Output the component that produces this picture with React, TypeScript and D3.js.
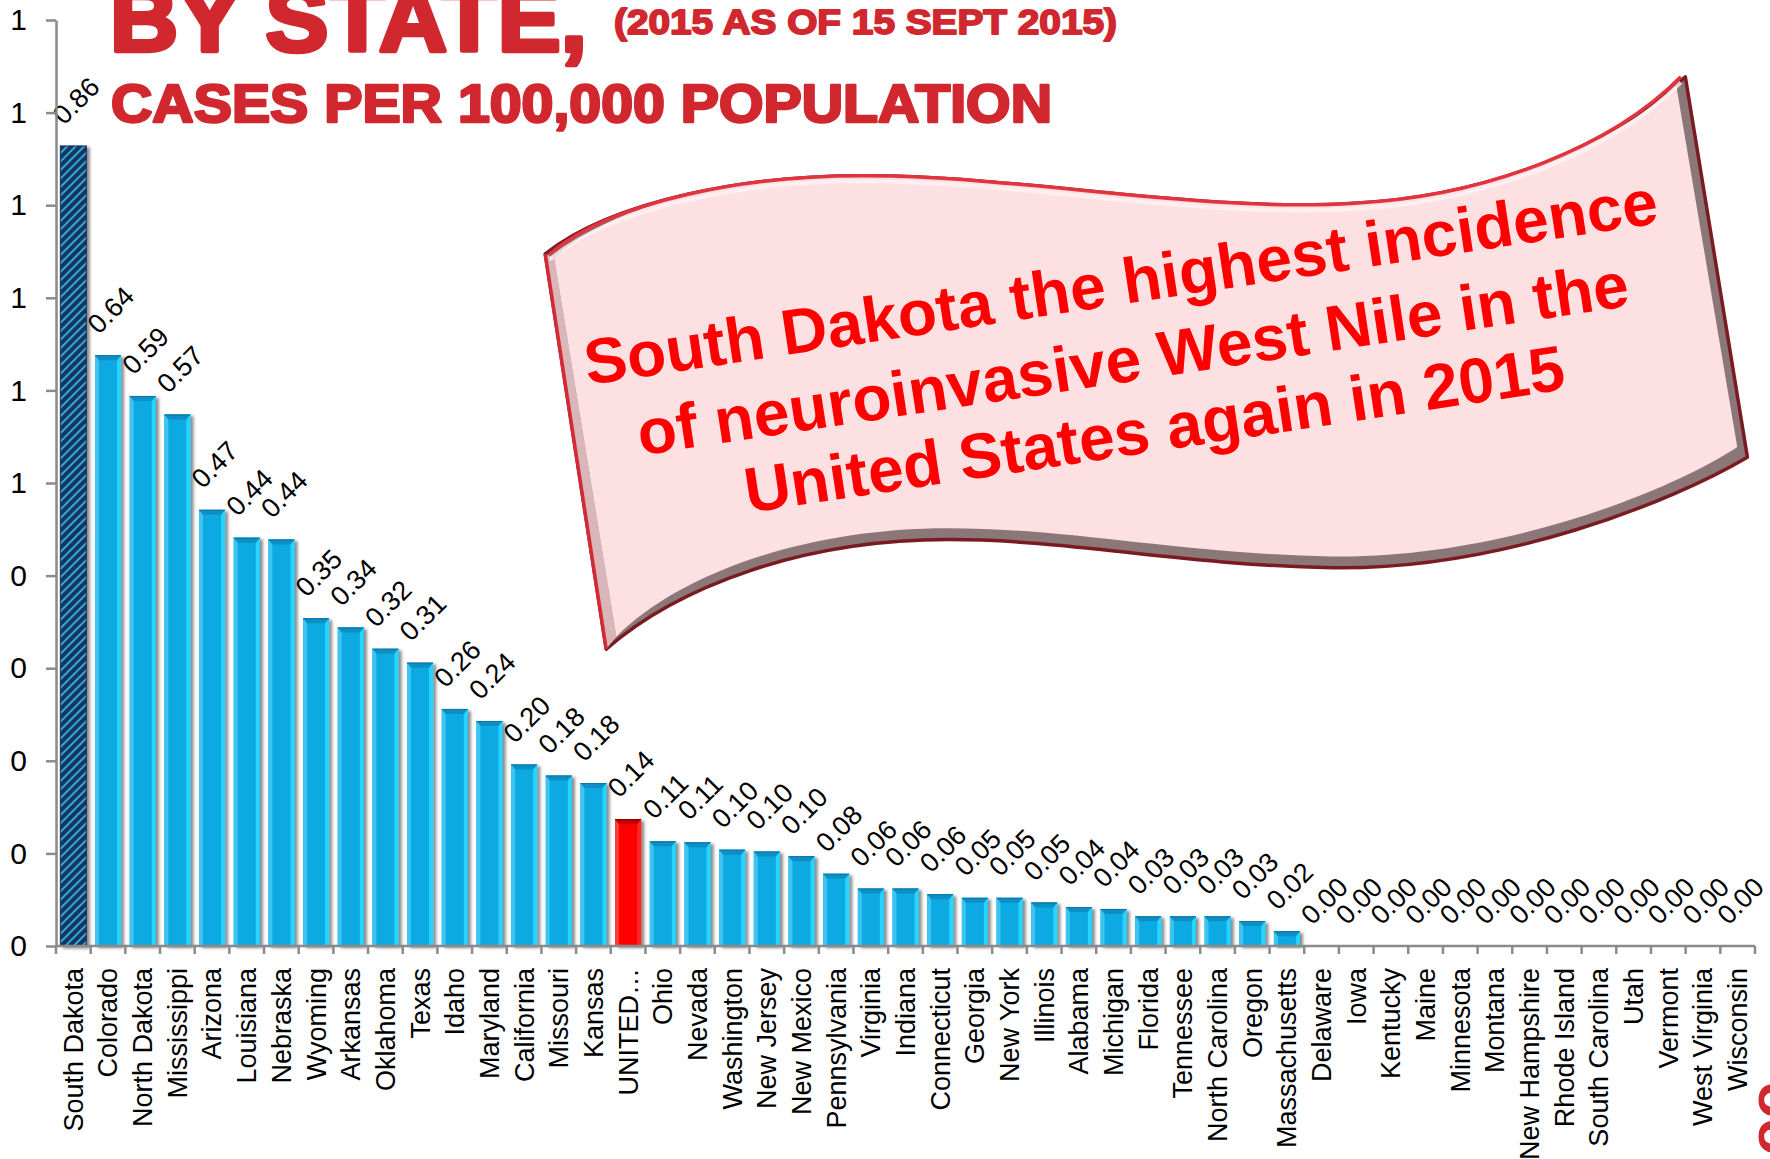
import React, { useEffect, useRef } from 'react'
import * as d3 from 'd3'

// categories, left to right as in the chart
const states = [
  'South Dakota', 'Colorado', 'North Dakota', 'Mississippi', 'Arizona', 'Louisiana', 'Nebraska',
  'Wyoming', 'Arkansas', 'Oklahoma', 'Texas', 'Idaho', 'Maryland', 'California', 'Missouri',
  'Kansas', 'UNITED…', 'Ohio', 'Nevada', 'Washington', 'New Jersey', 'New Mexico', 'Pennsylvania',
  'Virginia', 'Indiana', 'Connecticut', 'Georgia', 'New York', 'Illinois', 'Alabama', 'Michigan',
  'Florida', 'Tennessee', 'North Carolina', 'Oregon', 'Massachusetts', 'Delaware', 'Iowa',
  'Kentucky', 'Maine', 'Minnesota', 'Montana', 'New Hampshire', 'Rhode Island', 'South Carolina',
  'Utah', 'Vermont', 'West Virginia', 'Wisconsin'
]

// cases per 100,000 (labels show 2 decimals)
const rates = [
  0.864, 0.638, 0.594, 0.574, 0.471, 0.441, 0.439,
  0.354, 0.344, 0.321, 0.306, 0.256, 0.243, 0.196, 0.184,
  0.176, 0.137, 0.113, 0.112, 0.104, 0.102, 0.097, 0.078,
  0.062, 0.062, 0.056, 0.052, 0.052, 0.047, 0.042, 0.040,
  0.032, 0.032, 0.032, 0.027, 0.016, 0, 0,
  0, 0, 0, 0, 0, 0, 0,
  0, 0, 0, 0
]

const yTicks = [0, 0.1, 0.2, 0.3, 0.4, 0.5, 0.6, 0.7, 0.8, 0.9, 1.0]
const yTickLabels = ['0', '0', '0', '0', '0', '1', '1', '1', '1', '1', '1']

const highlightState = 'South Dakota'
const nationalRow = 'UNITED…'

const titleMain = 'BY STATE,'
const titleDate = '(2015 AS OF 15 SEPT 2015)'
const titleSub = 'CASES PER 100,000 POPULATION'

const calloutLines = [
  'South Dakota the highest incidence',
  'of neuroinvasive West Nile in the',
  'United States again in 2015'
]

const W = 1770
const H = 1159
const plotLeft = 56
const plotRight = 1755
const plotTop = 20
const plotBottom = 946
const FONT = "'Liberation Sans', Arial, sans-serif"
const TITLE_RED = '#d0282e'

export default function App() {
  const ref = useRef<SVGSVGElement>(null)

  useEffect(() => {
    document.body.style.margin = '0'
    const svg = d3.select(ref.current)
    svg.selectAll('*').remove()

    const defs = svg.append('defs')
    const hatch = defs.append('pattern')
      .attr('id', 'hatch')
      .attr('patternUnits', 'userSpaceOnUse')
      .attr('width', 6).attr('height', 6)
      .attr('patternTransform', 'rotate(45)')
    hatch.append('rect').attr('width', 6).attr('height', 6).attr('fill', '#16345f')
    hatch.append('line').attr('x1', 1).attr('y1', 0).attr('x2', 1).attr('y2', 6)
      .attr('stroke', '#36b4e6').attr('stroke-width', 1.8)

    const sh = defs.append('filter').attr('id', 'sh')
      .attr('x', '-30%').attr('y', '-10%').attr('width', '170%').attr('height', '130%')
    sh.append('feDropShadow').attr('dx', 3).attr('dy', 2).attr('stdDeviation', 1.6)
      .attr('flood-color', '#000').attr('flood-opacity', 0.45)

    const x = d3.scaleBand<string>().domain(states).range([plotLeft, plotRight])
      .paddingInner(0.25).paddingOuter(0.125)
    const y = d3.scaleLinear().domain([0, 1]).range([plotBottom, plotTop])
    const step = x.step()

    // bars
    const data = states.map((s, i) => ({ s, v: rates[i] }))
    const bars = svg.append('g').selectAll('g.bar').data(data).enter()
      .append('g').attr('class', 'bar').attr('filter', 'url(#sh)')

    const bluePal = { face: '#08a9e2', top: '#0b8fc4', edge: '#0a76a6', left: '#3cc5f0', right: '#27d4ff' }
    const redPal = { face: '#ff0000', top: '#c00000', edge: '#8a0000', left: '#ff3a3a', right: '#ff2626' }

    bars.each(function (d) {
      const g = d3.select(this)
      const bx = x(d.s) as number
      const bw = x.bandwidth()
      const by = y(d.v)
      const bh = plotBottom - by
      if (bh <= 0) return
      if (d.s === highlightState) {
        g.append('rect').attr('x', bx).attr('y', by).attr('width', bw).attr('height', bh)
          .attr('fill', 'url(#hatch)').attr('stroke', '#14305a').attr('stroke-width', 1)
        return
      }
      const pal = d.s === nationalRow ? redPal : bluePal
      const b = Math.min(4, bh / 3)
      g.append('rect').attr('x', bx).attr('y', by).attr('width', bw).attr('height', bh).attr('fill', pal.face)
      g.append('path')
        .attr('d', `M${bx},${by}L${bx + b},${by + b}L${bx + b},${plotBottom - 1}L${bx},${plotBottom}Z`)
        .attr('fill', pal.left)
      g.append('path')
        .attr('d', `M${bx + bw},${by}L${bx + bw - b},${by + b}L${bx + bw - b},${plotBottom - 1}L${bx + bw},${plotBottom}Z`)
        .attr('fill', pal.right)
      g.append('path')
        .attr('d', `M${bx},${by}L${bx + bw},${by}L${bx + bw - b},${by + b + 1}L${bx + b},${by + b + 1}Z`)
        .attr('fill', pal.top)
      g.append('line').attr('x1', bx).attr('x2', bx + bw).attr('y1', by + 0.5).attr('y2', by + 0.5)
        .attr('stroke', pal.edge).attr('stroke-width', 1)
    })

    // data labels
    const fmt = d3.format('.2f')
    svg.append('g').selectAll('text').data(data).enter().append('text')
      .attr('transform', d => `translate(${(x(d.s) as number) + x.bandwidth() / 2 + 3},${y(d.v) - 45}) rotate(-45)`)
      .attr('text-anchor', 'middle')
      .attr('dominant-baseline', 'central')
      .attr('font-family', FONT).attr('font-size', 27).attr('fill', '#000')
      .text(d => fmt(d.v))

    // y axis
    const yAxis = svg.append('g').attr('transform', `translate(${plotLeft},0)`)
      .call(d3.axisLeft(y).tickValues(yTicks).tickSize(10).tickSizeOuter(0).tickPadding(19)
        .tickFormat((_, i) => yTickLabels[i]))
    yAxis.attr('font-size', 30).attr('font-family', FONT)
    yAxis.selectAll('path, line').attr('stroke', '#8a8a8a').attr('stroke-width', 2.5)
    yAxis.selectAll('text').attr('font-family', FONT).attr('font-size', 30).attr('fill', '#000')

    // x axis line, boundary ticks and rotated category labels
    const xg = svg.append('g')
    xg.append('line').attr('x1', plotLeft).attr('x2', plotRight).attr('y1', plotBottom).attr('y2', plotBottom)
      .attr('stroke', '#8a8a8a').attr('stroke-width', 2.5)
    const bounds = states.map(s => (x(s) as number) - step * 0.125)
    bounds.push(plotRight)
    xg.selectAll('line.tick').data(bounds).enter().append('line')
      .attr('x1', d => d).attr('x2', d => d).attr('y1', plotBottom).attr('y2', plotBottom + 8)
      .attr('stroke', '#8a8a8a').attr('stroke-width', 2.5)
    xg.selectAll('text').data(states).enter().append('text')
      .attr('transform', d => `translate(${(x(d) as number) + x.bandwidth() / 2},${plotBottom + 22}) rotate(-90)`)
      .attr('text-anchor', 'end')
      .attr('dy', '0.35em')
      .attr('font-family', FONT).attr('font-size', 27).attr('fill', '#000')
      .text(d => d)

    // titles
    const tg = svg.append('g').attr('font-family', FONT).attr('font-weight', 'bold')
      .attr('fill', TITLE_RED).attr('stroke', TITLE_RED).attr('stroke-linejoin', 'round')
    tg.append('text').attr('x', 110).attr('y', 51).attr('font-size', 90).attr('stroke-width', 4.5)
      .attr('textLength', 477).attr('lengthAdjust', 'spacingAndGlyphs').text(titleMain)
    tg.append('text').attr('x', 614).attr('y', 34).attr('font-size', 35).attr('stroke-width', 1.8)
      .attr('textLength', 503).attr('lengthAdjust', 'spacingAndGlyphs').text(titleDate)
    tg.append('text').attr('x', 111).attr('y', 122).attr('font-size', 53).attr('stroke-width', 2.6)
      .attr('textLength', 941).attr('lengthAdjust', 'spacingAndGlyphs').text(titleSub)

    // wavy callout banner (shape points in the shrunk reference, scaled up)
    const k = W / 1568
    type P = [number, number]
    const sc = (p: P): P => [p[0] * k, p[1] * k]
    const TL: P = [483, 225], TR: P = [1493, 68], BR: P = [1548, 405], BL: P = [537, 575]
    const topSegs: P[][] = [
      [[540, 180], [660, 152], [790, 156]],
      [[930, 160], [1070, 188], [1200, 180]],
      [[1320, 174], [1430, 128], TR]
    ]
    const botSegs: P[][] = [
      [[1480, 445], [1330, 505], [1180, 503]],
      [[1040, 500], [950, 478], [840, 478]],
      [[710, 478], [600, 520], BL]
    ]
    const shape = (tl: P, tr: P, br: P, bl: P, dyBottom: number) => {
      const p = d3.path()
      p.moveTo(...sc(tl))
      topSegs.forEach((s, i) => {
        const e = i === topSegs.length - 1 ? tr : s[2]
        const a = sc(s[0]), b = sc(s[1]), c = sc(e)
        p.bezierCurveTo(a[0], a[1], b[0], b[1], c[0], c[1])
      })
      p.lineTo(...sc(br))
      botSegs.forEach((s, i) => {
        const e: P = i === botSegs.length - 1 ? bl : [s[2][0], s[2][1] + dyBottom]
        const a = sc([s[0][0], s[0][1] + dyBottom]), b = sc([s[1][0], s[1][1] + dyBottom]), c = sc(e)
        p.bezierCurveTo(a[0], a[1], b[0], b[1], c[0], c[1])
      })
      p.closePath()
      return p.toString()
    }
    const topLine = (dy: number) => {
      const p = d3.path()
      const s0 = sc([TL[0] + 4, TL[1] + dy])
      p.moveTo(s0[0], s0[1])
      topSegs.forEach(s => {
        const a = sc([s[0][0], s[0][1] + dy]), b = sc([s[1][0], s[1][1] + dy]), c = sc([s[2][0] - (s[2] === TR ? 4 : 0), s[2][1] + dy])
        p.bezierCurveTo(a[0], a[1], b[0], b[1], c[0], c[1])
      })
      return p.toString()
    }

    const bg = svg.append('g')
    bg.append('path').attr('d', shape(TL, TR, BR, BL, 0))
      .attr('fill', '#8b7678').attr('stroke', '#7a1b22').attr('stroke-width', 3.5).attr('stroke-linejoin', 'round')
    const TLf: P = [491, 229], TRf: P = [1485, 76], BRf: P = [1539, 396], BLf: P = [546, 564]
    bg.append('path')
      .attr('d', `M${sc(TL)}L${sc(TLf)}L${sc(BLf)}L${sc(BL)}Z`)
      .attr('fill', '#d8b6ba')
    bg.append('path').attr('d', shape(TLf, TRf, BRf, BLf, -10)).attr('fill', '#fde0e2')
    bg.append('path').attr('d', topLine(5)).attr('fill', 'none')
      .attr('stroke', '#fff3f4').attr('stroke-width', 4).attr('opacity', 0.8)
    bg.append('path').attr('d', topLine(0)).attr('fill', 'none')
      .attr('stroke', '#e2343f').attr('stroke-width', 3.5)
    bg.append('path').attr('d', `M${sc(TL)}L${sc(BL)}`).attr('fill', 'none')
      .attr('stroke', '#d42a36').attr('stroke-width', 3.5)

    const linePos: P[] = [[1124, 304], [1136, 380.5], [1157.6, 451]]
    bg.selectAll('text.callout').data(calloutLines).enter().append('text')
      .attr('transform', (_, i) => `translate(${linePos[i][0]},${linePos[i][1]}) rotate(-8.6)`)
      .attr('text-anchor', 'middle')
      .attr('font-family', FONT).attr('font-weight', 'bold').attr('font-size', 64)
      .attr('fill', '#ff0000')
      .text(d => d)

    // cut-off logo letters at the bottom-right edge
    svg.append('text')
      .attr('transform', `translate(${W + 20},${H - 4}) rotate(-90)`)
      .attr('font-family', FONT).attr('font-weight', 'bold').attr('font-size', 60)
      .attr('fill', TITLE_RED).text('oo')
  }, [])

  return <svg ref={ref} width={W} height={H} style={{ display: 'block', background: '#fff' }} />
}
